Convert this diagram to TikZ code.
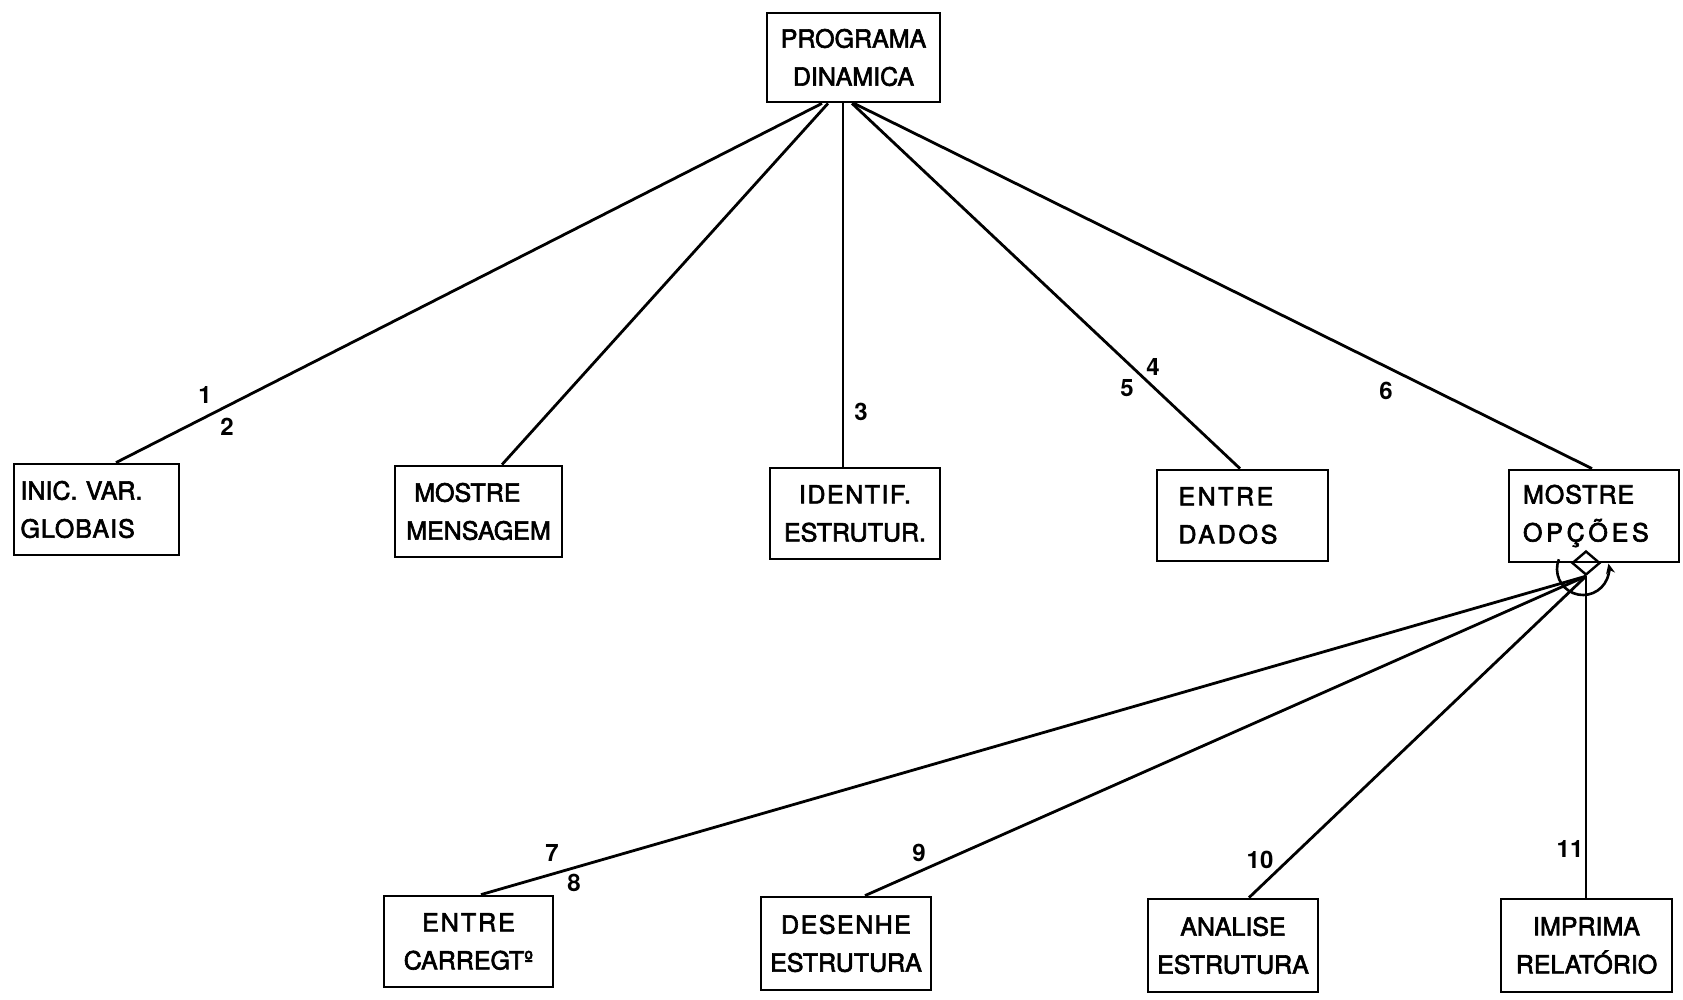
\documentclass[tikz,border=0pt]{standalone}
\usepackage{fontspec}
\setmainfont{TeX Gyre Heros}
\newfontfamily\lettering{TeX Gyre Heros}[FakeBold=2.5]
\usetikzlibrary{shapes.geometric,arrows.meta}
% tracked (letter-spaced) text
\newcommand\trk[2]{{\addfontfeature{LetterSpace=#1}#2}}
\begin{document}
\begin{tikzpicture}[x=1pt,y=-1pt,
  module/.style={draw,line width=2.8pt,inner sep=0pt,align=center,
    font=\lettering\fontsize{25}{38}\selectfont},
  link/.style={line width=2.8pt},
  num/.style={inner sep=0pt,font=\fontsize{24}{24}\selectfont\bfseries}]
\useasboundingbox (0,0) rectangle (1683,999);

% main module
\node[module,minimum width=173pt,minimum height=89pt] (top) at (853.5,57.5)
  {PROGRAMA\\DINAMICA};

% first level
\node[module,minimum width=165pt,minimum height=91pt,align=left,text width=152pt] (inic) at (96.5,509.5)
  {INIC. VAR.\\\trk{4}{GLOBAIS}};
\node[module,minimum width=167pt,minimum height=91pt,align=left] (msg) at (478.5,511.5)
  {\hspace{8pt}MOSTRE\\MENSAGEM};
\node[module,minimum width=170pt,minimum height=91pt] (ident) at (855,513.5)
  {\trk{6}{IDENTIF.}\\ESTRUTUR.};
\node[module,minimum width=171pt,minimum height=91pt,align=left,text width=128pt] (dados) at (1242.5,515.5)
  {\trk{10}{ENTRE}\\\trk{11}{DADOS}};
\node[module,minimum width=170pt,minimum height=92pt,align=left,text width=142pt] (opc) at (1594,516)
  {\trk{4}{MOSTRE}\\\trk{15}{OPÇÕES}};

% second level under MOSTRE OPCOES
\node[module,minimum width=169pt,minimum height=91pt] (carr) at (468.5,941.5)
  {\trk{8}{ENTRE}\\CARREGTº};
\node[module,minimum width=170pt,minimum height=93pt] (des) at (846,943.5)
  {\trk{6}{DESENHE}\\ESTRUTURA};
\node[module,minimum width=170pt,minimum height=93pt] (ana) at (1233,945.5)
  {ANALISE\\ESTRUTURA};
\node[module,minimum width=171pt,minimum height=93pt] (imp) at (1586.5,945.5)
  {IMPRIMA\\RELATÓRIO};

% selection diamond and iteration loop below MOSTRE OPCOES
\node[draw,diamond,line width=2.4pt,inner sep=0pt,minimum width=28pt,minimum height=24pt]
  (sel) at (1586,563) {};
\coordinate (loopc) at (1583,569);
\draw[line width=2.6pt,-{Stealth[length=10pt,width=9pt]}]
  (loopc) ++(158:26pt) arc[start angle=158,end angle=372,radius=26pt];

% calls from the main module
\draw[link] ([xshift=-31.5pt]top.south) -- ([xshift=19.5pt]inic.north);
\draw[link] ([xshift=-25.5pt]top.south) -- ([xshift=23.5pt]msg.north);
\draw[link] ([xshift=-10.5pt]top.south) -- ([xshift=-12pt]ident.north);
\draw[link] ([xshift=-1.5pt]top.south) -- ([xshift=-2.5pt]dados.north);
\draw[link] ([xshift=0.5pt]top.south) -- ([xshift=-2pt]opc.north);

% calls from MOSTRE OPCOES
\draw[link] (sel.south) -- ([xshift=12.5pt]carr.north);
\draw[link] (sel.south) -- ([xshift=19pt]des.north);
\draw[link] (sel.south) -- ([xshift=16pt]ana.north);
\draw[link] (sel.south) -- (sel.south |- imp.north);

% connector numbers
\node[num] (n1) at (205,395) {1};
\node[num] (n2) at (227,427) {2};
\node[num] (n3) at (861,412) {3};
\node[num] (n4) at (1153,367) {4};
\node[num] (n5) at (1127,388) {5};
\node[num] (n6) at (1386,391) {6};
\node[num] (n7) at (552,853) {7};
\node[num] (n8) at (574,883) {8};
\node[num] (n9) at (919,853) {9};
\node[num] (n10) at (1260,860) {10};
\node[num] (n11) at (1570,849) {11};
\end{tikzpicture}
\end{document}
